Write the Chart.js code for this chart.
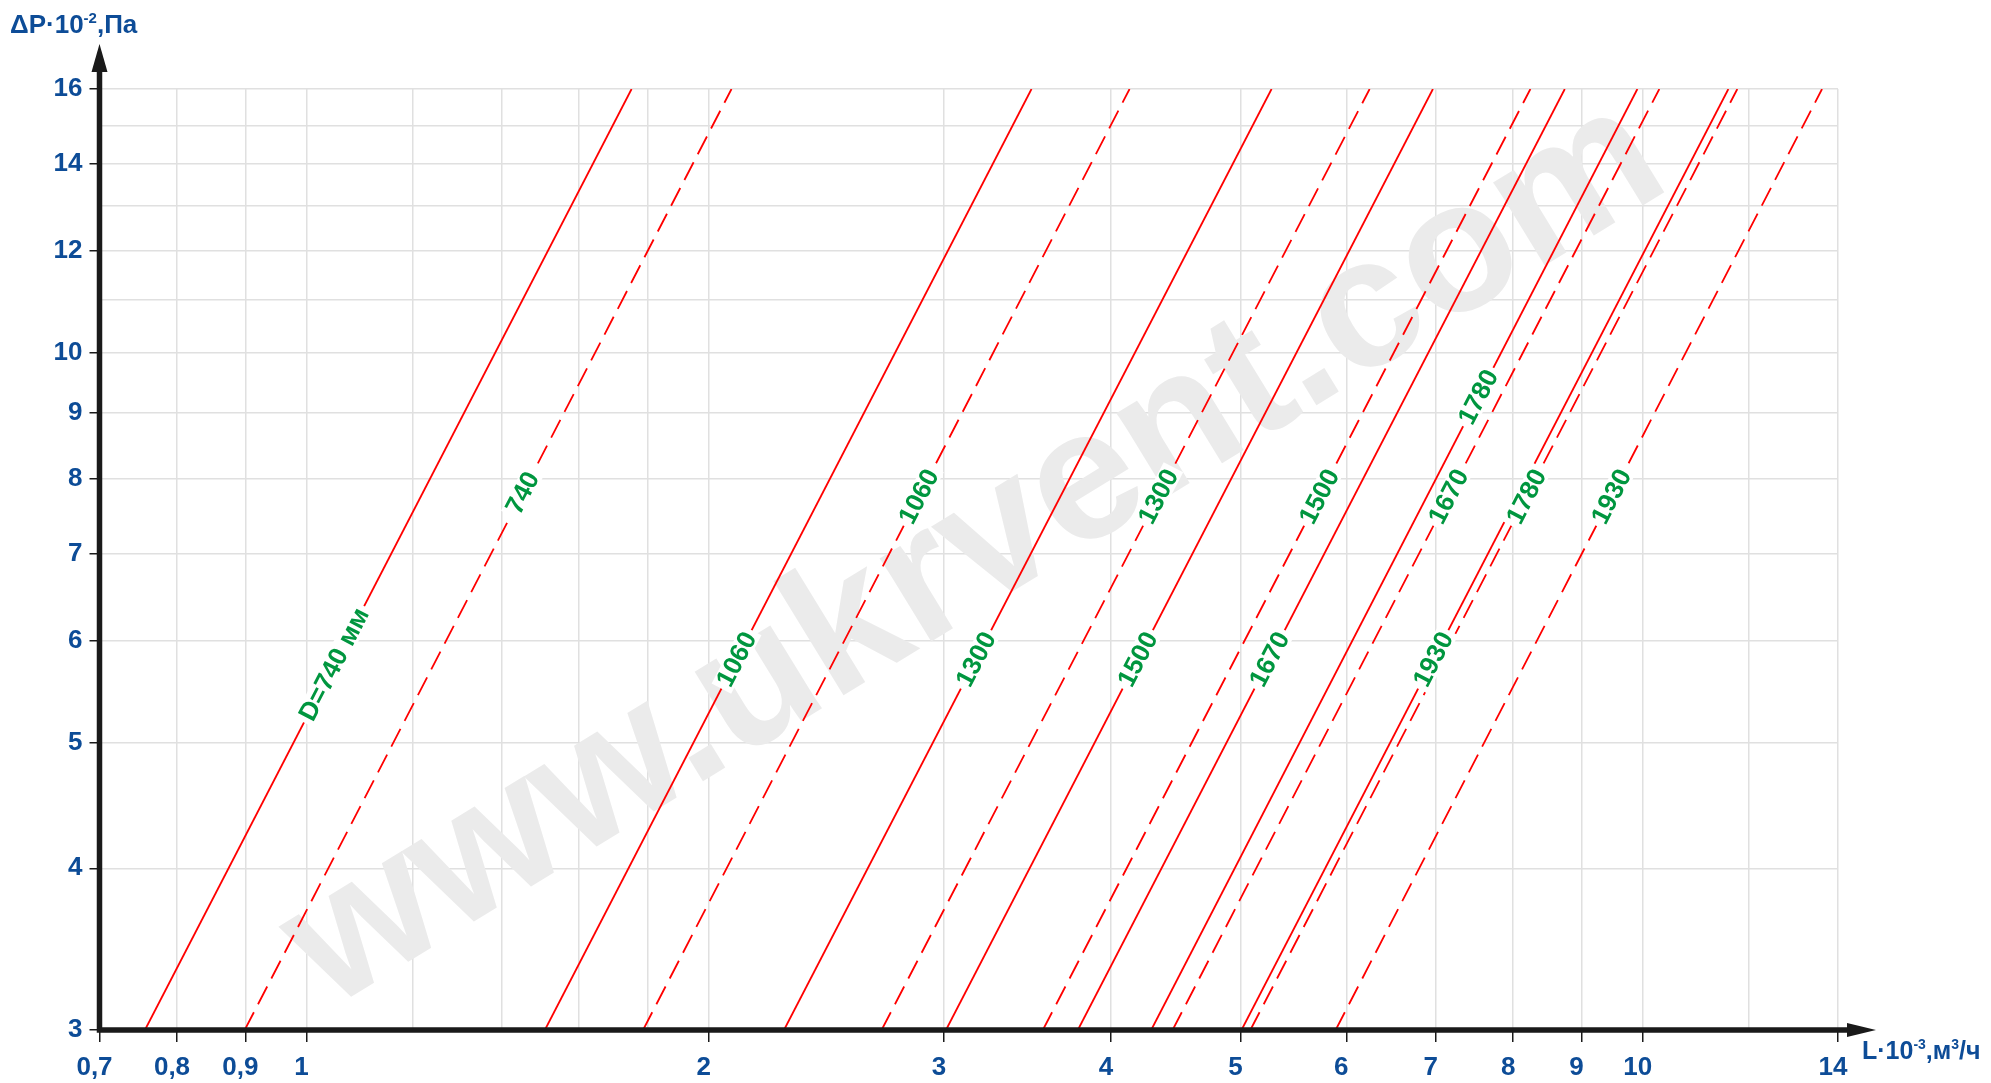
<!DOCTYPE html>
<html>
<head>
<meta charset="utf-8">
<title>ΔP - L</title>
<script src="https://cdn.jsdelivr.net/npm/chart.js@4.4.1/dist/chart.umd.min.js"></script>
<style>
  html, body { margin: 0; padding: 0; background: #ffffff; }
  canvas { display: block; }
</style>
</head>
<body>
<canvas id="myChart" width="1991" height="1083"></canvas>
<script>
// ΔP·10^-2 Pa against L·10^-3 m3/h, log-log, one solid + one dashed line per diameter
var diameters = [740, 1060, 1300, 1500, 1670, 1780, 1930];
var dpEnds = [3, 16];
// L values where each line meets ΔP = 3 (low) and ΔP = 16 (high)
var solidLow  = [0.757, 1.508, 2.277, 3.010, 3.778, 4.287, 5.009];
var solidHigh = [1.751, 3.488, 5.275, 6.966, 8.743, 9.908, 11.59];
var dashLow   = [0.899, 1.786, 2.694, 3.557, 4.448, 5.086, 5.891];
var dashHigh  = [2.080, 4.130, 6.246, 8.240, 10.29, 11.77, 13.62];

var xGrid   = [0.7, 0.8, 0.9, 1, 1.2, 1.4, 1.6, 1.8, 2, 3, 4, 5, 6, 7, 8, 9, 10, 12, 14];
var xLabels = [0.7, 0.8, 0.9, 1, 2, 3, 4, 5, 6, 7, 8, 9, 10, 14];
var yGrid   = [3, 4, 5, 6, 7, 8, 9, 10, 11, 12, 13, 14, 15, 16];
var yLabels = [3, 4, 5, 6, 7, 8, 9, 10, 12, 14, 16];

// where the labels sit on the lines (ΔP value)
var solidLabelAt = [5.75, 5.8, 5.8, 5.8, 5.8, 9.25, 5.8];
var dashLabelAt  = [7.8, 7.75, 7.75, 7.75, 7.75, 7.75, 7.75];

var blue = "#0d4c97";
var green = "#00963f";
var red = "#ff0000";
var axisColor = "#1a1a1a";
var fontFam = "'Liberation Sans', Arial, sans-serif";

var datasets = [];
for (var i = 0; i < diameters.length; i++) {
    datasets.push({
        label: (i == 0 ? "D=" + diameters[i] + " мм" : String(diameters[i])),
        data: [{x: solidLow[i], y: dpEnds[0]}, {x: solidHigh[i], y: dpEnds[1]}],
        borderColor: red,
        borderWidth: 1.8,
        pointRadius: 0,
        fill: false,
        labelAt: solidLabelAt[i]
    });
    datasets.push({
        label: String(diameters[i]),
        data: [{x: dashLow[i], y: dpEnds[0]}, {x: dashHigh[i], y: dpEnds[1]}],
        borderColor: red,
        borderWidth: 1.8,
        borderDash: [20, 9],
        pointRadius: 0,
        fill: false,
        labelAt: dashLabelAt[i]
    });
}

function fmt(v) {
    return String(v).replace(".", ",");
}

function drawParts(ctx, x, y, parts) {
    ctx.save();
    ctx.fillStyle = blue;
    ctx.textAlign = "left";
    ctx.textBaseline = "alphabetic";
    for (var i = 0; i < parts.length; i++) {
        ctx.font = "bold " + parts[i][1] + "px " + fontFam;
        ctx.fillText(parts[i][0], x, y + parts[i][2]);
        x += ctx.measureText(parts[i][0]).width;
    }
    ctx.restore();
}

var chartDecor = {
    id: "chartDecor",
    beforeDatasetsDraw: function(chart) {
        // watermark
        var ctx = chart.ctx;
        ctx.save();
        ctx.translate(1002, 598);
        ctx.rotate(-31.5 * Math.PI / 180);
        ctx.font = "bold 185px " + fontFam;
        ctx.fillStyle = "#ebebeb";
        ctx.textAlign = "center";
        ctx.textBaseline = "alphabetic";
        ctx.fillText("www.ukrvent.com", 0, 0);
        ctx.restore();
    },
    afterDatasetsDraw: function(chart) {
        var ctx = chart.ctx;
        var xs = chart.scales.x, ys = chart.scales.y;
        var area = chart.chartArea;

        // line labels
        ctx.save();
        ctx.font = "bold 26px " + fontFam;
        ctx.textAlign = "center";
        ctx.textBaseline = "middle";
        chart.data.datasets.forEach(function(ds) {
            var p0 = ds.data[0], p1 = ds.data[1];
            var t = (Math.log(ds.labelAt) - Math.log(p0.y)) / (Math.log(p1.y) - Math.log(p0.y));
            var lx = Math.exp(Math.log(p0.x) + t * (Math.log(p1.x) - Math.log(p0.x)));
            var px = xs.getPixelForValue(lx), py = ys.getPixelForValue(ds.labelAt);
            var ang = Math.atan2(ys.getPixelForValue(p1.y) - ys.getPixelForValue(p0.y),
                                 xs.getPixelForValue(p1.x) - xs.getPixelForValue(p0.x));
            var w = ctx.measureText(ds.label).width;
            ctx.save();
            ctx.translate(px, py);
            ctx.rotate(ang);
            ctx.fillStyle = "#ffffff";
            ctx.fillRect(-w / 2 - 4, -11, w + 8, 22);
            ctx.fillStyle = green;
            ctx.fillText(ds.label, 0, 1);
            ctx.restore();
        });
        ctx.restore();

        // axes with arrows
        var left = area.left, bottom = area.bottom;
        ctx.save();
        ctx.strokeStyle = axisColor;
        ctx.fillStyle = axisColor;
        ctx.lineWidth = 5.5;
        ctx.beginPath();
        ctx.moveTo(left, bottom + 2.75);
        ctx.lineTo(left, 66);
        ctx.moveTo(left - 2.75, bottom);
        ctx.lineTo(1850, bottom);
        ctx.stroke();
        ctx.beginPath();
        ctx.moveTo(left, 44);
        ctx.lineTo(left + 8, 72);
        ctx.lineTo(left - 8, 72);
        ctx.closePath();
        ctx.fill();
        ctx.beginPath();
        ctx.moveTo(1876, bottom);
        ctx.lineTo(1847, bottom - 7);
        ctx.lineTo(1847, bottom + 7);
        ctx.closePath();
        ctx.fill();
        ctx.restore();
    },
    afterDraw: function(chart) {
        var ctx = chart.ctx;
        drawParts(ctx, 10, 33, [["ΔP·10", 26, 0], ["-2", 15, -10], [",Па", 26, 0]]);
        drawParts(ctx, 1862, 1059, [["L·10", 25, 0], ["-3", 14, -10], [",м", 25, 0], ["3", 14, -10], ["/ч", 25, 0]]);
    }
};

new Chart("myChart", {
    type: "line",
    data: { datasets: datasets },
    options: {
        responsive: false,
        devicePixelRatio: 1,
        animation: false,
        layout: { padding: { left: 0, top: 89, right: 153, bottom: 0 } },
        plugins: {
            legend: { display: false },
            tooltip: { enabled: false },
            title: { display: false }
        },
        scales: {
            x: {
                type: "logarithmic",
                min: 0.7,
                max: 14,
                afterBuildTicks: function(scale) {
                    scale.ticks = xGrid.map(function(v) { return {value: v}; });
                },
                afterFit: function(scale) { scale.height = 53; },
                border: { display: false },
                grid: {
                    color: "#e0e0e0",
                    lineWidth: 1.5,
                    tickLength: 12,
                    tickWidth: 1.5,
                    tickColor: function(c) {
                        return (c.tick && xLabels.indexOf(c.tick.value) >= 0) ? axisColor : "rgba(0,0,0,0)";
                    }
                },
                ticks: {
                    autoSkip: false,
                    maxRotation: 0,
                    minRotation: 0,
                    padding: 10,
                    labelOffset: -5,
                    color: blue,
                    font: { family: fontFam, size: 26, weight: "bold" },
                    callback: function(v) { return xLabels.indexOf(v) >= 0 ? fmt(v) : ""; }
                }
            },
            y: {
                type: "logarithmic",
                min: 3,
                max: 16,
                afterBuildTicks: function(scale) {
                    scale.ticks = yGrid.map(function(v) { return {value: v}; });
                },
                afterFit: function(scale) { scale.width = 99.5; },
                border: { display: false },
                grid: {
                    color: "#e0e0e0",
                    lineWidth: 1.5,
                    tickLength: 10,
                    tickWidth: 1.5,
                    tickColor: function(c) {
                        return (c.tick && yLabels.indexOf(c.tick.value) >= 0) ? axisColor : "rgba(0,0,0,0)";
                    }
                },
                ticks: {
                    autoSkip: false,
                    padding: 7,
                    color: blue,
                    font: { family: fontFam, size: 26, weight: "bold" },
                    callback: function(v) { return yLabels.indexOf(v) >= 0 ? fmt(v) : ""; }
                }
            }
        }
    },
    plugins: [chartDecor]
});
</script>
</body>
</html>
